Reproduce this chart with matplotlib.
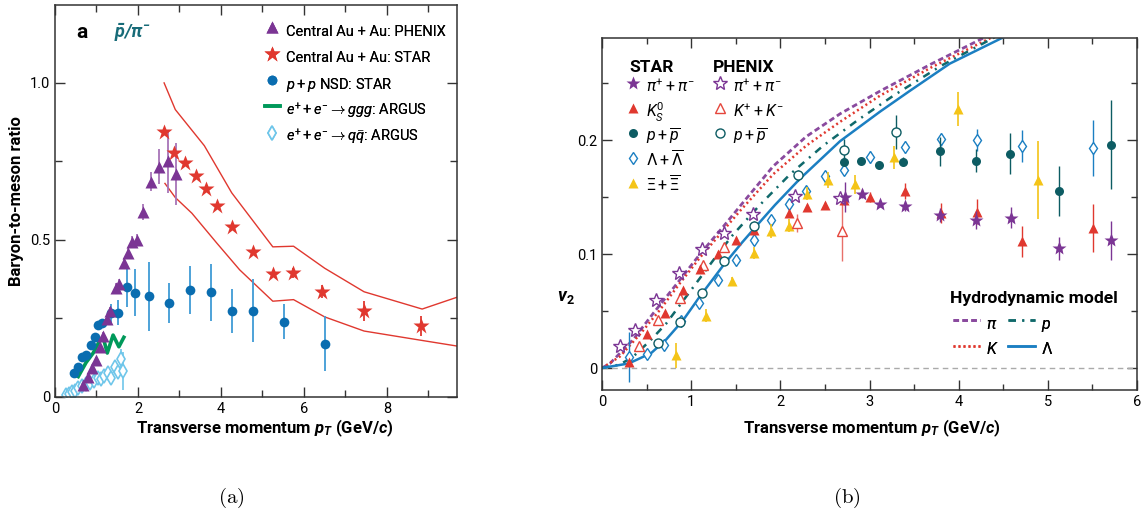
"""
Baryon-to-meson ratios (a) and elliptic flow v2 (b) versus transverse momentum
"""
import matplotlib
matplotlib.use("Agg")
from matplotlib import pyplot as plt
from matplotlib.ticker import MultipleLocator, FixedLocator

plt.rcParams["font.family"] = ["Roboto", "DejaVu Sans"]
plt.rcParams["mathtext.fontset"] = "custom"
plt.rcParams["mathtext.rm"] = "Roboto"
plt.rcParams["mathtext.it"] = "Roboto:italic"
plt.rcParams["mathtext.bf"] = "Roboto:bold"
if "mathtext.bfit" in plt.rcParams:
    plt.rcParams["mathtext.bfit"] = "Roboto:italic:bold"

# ---- panel a: pbar/pi- ratios ----
phenix_pt = [0.67, 0.80, 0.89, 0.99, 1.08, 1.16, 1.26, 1.33, 1.47, 1.55,
             1.66, 1.77, 1.86, 1.97, 2.12, 2.31, 2.51, 2.72, 2.92]
phenix_ratio = [0.038, 0.065, 0.092, 0.118, 0.160, 0.194, 0.248, 0.274, 0.347, 0.360,
                0.426, 0.458, 0.494, 0.500, 0.590, 0.685, 0.733, 0.750, 0.710]
phenix_err = [0.01, 0.01, 0.01, 0.01, 0.01, 0.012, 0.012, 0.012, 0.015, 0.015,
              0.015, 0.015, 0.02, 0.02, 0.025, 0.03, 0.055, 0.10, 0.10]

star_pt = [2.63, 2.87, 3.13, 3.40, 3.64, 3.90, 4.27, 4.78, 5.25, 5.74, 6.43, 7.45, 8.83]
star_ratio = [0.844, 0.777, 0.745, 0.704, 0.662, 0.609, 0.541, 0.461, 0.392, 0.395,
              0.335, 0.274, 0.226]
star_err = [0, 0, 0, 0, 0, 0, 0, 0, 0.01, 0.015, 0.02, 0.032, 0.033]

band_hi_pt = [2.63, 2.90, 3.60, 4.26, 5.25, 5.75, 6.50, 7.45, 8.85, 9.70]
band_hi = [1.0, 0.915, 0.80, 0.65, 0.478, 0.48, 0.41, 0.335, 0.28, 0.318]
band_lo_pt = [2.65, 2.90, 3.30, 3.90, 4.45, 5.25, 5.75, 6.50, 7.45, 8.85, 9.70]
band_lo = [0.68, 0.635, 0.585, 0.49, 0.405, 0.305, 0.31, 0.255, 0.21, 0.18, 0.162]

pp_pt = [0.46, 0.56, 0.66, 0.75, 0.87, 0.96, 1.04, 1.13, 1.35, 1.52,
         1.73, 1.93, 2.27, 2.75, 3.25, 3.75, 4.27, 4.78, 5.52, 6.52]
pp_ratio = [0.075, 0.095, 0.128, 0.134, 0.166, 0.19, 0.228, 0.236, 0.267, 0.268,
            0.35, 0.332, 0.32, 0.30, 0.34, 0.333, 0.275, 0.275, 0.24, 0.17]
pp_err = [0.005, 0.005, 0.006, 0.006, 0.007, 0.008, 0.01, 0.01, 0.03, 0.04,
          0.065, 0.075, 0.11, 0.063, 0.077, 0.09, 0.07, 0.10, 0.056, 0.088]

ggg_pt = [0.56, 0.75, 0.92, 1.06, 1.16, 1.26, 1.40, 1.54, 1.66]
ggg_ratio = [0.065, 0.11, 0.14, 0.175, 0.19, 0.14, 0.197, 0.16, 0.19]

qq_pt = [0.26, 0.33, 0.40, 0.48, 0.56, 0.66, 0.74, 0.84, 0.93, 1.03,
         1.11, 1.19, 1.27, 1.35, 1.44, 1.52, 1.59, 1.65]
qq_ratio = [0.005, 0.01, 0.016, 0.02, 0.028, 0.034, 0.04, 0.046, 0.05, 0.06,
            0.056, 0.066, 0.076, 0.062, 0.095, 0.08, 0.122, 0.082]
qq_err = [0.005, 0.005, 0.006, 0.006, 0.008, 0.008, 0.008, 0.01, 0.01, 0.012,
          0.012, 0.015, 0.015, 0.015, 0.02, 0.02, 0.03, 0.06]

# ---- panel b: v2 ----
star_pi_pt = [2.72, 2.92, 3.12, 3.40, 3.79, 4.19, 4.59, 5.12, 5.71]
star_pi_v2 = [0.150, 0.153, 0.144, 0.142, 0.134, 0.130, 0.132, 0.105, 0.112]
star_pi_err = [0.013, 0.004, 0.003, 0.004, 0.006, 0.008, 0.009, 0.010, 0.017]

phenix_pi_pt = [0.20, 0.37, 0.61, 0.86, 1.12, 1.37, 1.69, 2.17, 2.67]
phenix_pi_v2 = [0.019, 0.033, 0.060, 0.083, 0.104, 0.118, 0.135, 0.151, 0.149]

k0s_pt = [0.30, 0.50, 0.71, 0.905, 1.10, 1.30, 1.50, 1.70, 2.10, 2.30, 2.50, 2.71,
          3.00, 3.40, 3.80, 4.21, 4.71, 5.51]
k0s_v2 = [0.005, 0.030, 0.048, 0.068, 0.087, 0.100, 0.112, 0.121, 0.136, 0.141, 0.143,
          0.147, 0.150, 0.155, 0.136, 0.137, 0.111, 0.1225]
k0s_err = [0.002, 0.002, 0.002, 0.002, 0.003, 0.003, 0.003, 0.003, 0.003, 0.003, 0.003,
           0.004, 0.004, 0.007, 0.009, 0.011, 0.014, 0.021]

phenix_k_pt = [0.42, 0.63, 0.87, 1.13, 1.37, 2.19, 2.69]
phenix_k_v2 = [0.019, 0.042, 0.061, 0.090, 0.106, 0.127, 0.120]
phenix_k_err = [0.002, 0.002, 0.003, 0.003, 0.004, 0.008, 0.026]

star_p_pt = [2.71, 2.90, 3.11, 3.38, 3.79, 4.19, 4.58, 5.12, 5.71]
star_p_v2 = [0.181, 0.182, 0.178, 0.181, 0.190, 0.182, 0.188, 0.155, 0.196]
star_p_err = [0.004, 0.003, 0.003, 0.004, 0.013, 0.010, 0.018, 0.022, 0.039]

phenix_p_pt = [0.63, 0.875, 1.125, 1.37, 1.70, 2.20, 2.71, 3.30]
phenix_p_v2 = [0.022, 0.040, 0.066, 0.094, 0.125, 0.169, 0.191, 0.207]
phenix_p_err = [0.002, 0.003, 0.003, 0.004, 0.004, 0.005, 0.010, 0.015]

lam_pt = [0.30, 0.50, 0.70, 0.89, 1.09, 1.30, 1.50, 1.70, 1.90, 2.10,
          2.29, 2.50, 2.71, 3.01, 3.40, 3.80, 4.20, 4.71, 5.51]
lam_v2 = [0.010, 0.012, 0.020, 0.041, 0.057, 0.077, 0.095, 0.112, 0.130, 0.144,
          0.155, 0.168, 0.174, 0.185, 0.194, 0.2005, 0.200, 0.195, 0.193]
lam_err = [0.022, 0.003, 0.003, 0.003, 0.003, 0.003, 0.003, 0.004, 0.004, 0.004,
           0.004, 0.005, 0.005, 0.005, 0.005, 0.006, 0.010, 0.014, 0.025]

xi_pt = [0.83, 1.17, 1.46, 1.70, 1.90, 2.10, 2.30, 2.54, 2.84, 3.27, 3.99, 4.89]
xi_v2 = [0.011, 0.046, 0.076, 0.101, 0.120, 0.125, 0.153, 0.165, 0.161, 0.185, 0.227, 0.165]
xi_err = [0.011, 0.006, 0.004, 0.005, 0.006, 0.006, 0.006, 0.007, 0.008, 0.010, 0.015, 0.034]

# hydrodynamic model curves
hydro_pi_pt = [0, 0.09, 0.35, 0.575, 0.84, 1.10, 1.36, 1.58, 1.92, 2.29, 2.67, 3.12, 3.70, 4.29]
hydro_pi = [0, 0.004, 0.025, 0.048, 0.074, 0.100, 0.124, 0.145, 0.177, 0.203, 0.223,
            0.243, 0.267, 0.290]
hydro_k_pt = [0, 0.20, 0.43, 0.65, 0.87, 1.10, 1.32, 1.55, 1.92, 2.29, 2.67, 3.12, 3.70, 4.37]
hydro_k = [0, 0.010, 0.030, 0.051, 0.074, 0.097, 0.117, 0.138, 0.170, 0.195, 0.216,
           0.239, 0.264, 0.290]
hydro_p_pt = [0, 0.20, 0.35, 0.54, 0.72, 0.91, 1.10, 1.29, 1.47, 1.77, 2.11, 2.48, 2.86,
              3.27, 3.80, 4.40]
hydro_p = [0, 0.003, 0.010, 0.024, 0.039, 0.059, 0.079, 0.099, 0.117, 0.143, 0.170,
           0.195, 0.217, 0.239, 0.265, 0.290]
hydro_lam_pt = [0, 0.30, 0.55, 0.72, 0.91, 1.10, 1.36, 1.57, 1.77, 1.94, 2.22, 2.67,
                3.12, 3.45, 3.90, 4.55]
hydro_lam = [0, 0.004, 0.013, 0.025, 0.042, 0.063, 0.090, 0.110, 0.128, 0.143, 0.166,
             0.199, 0.225, 0.243, 0.267, 0.292]

W, H = 1146, 519
PURPLE = "#7b3594"
RED = "#e0382f"
BLUE = "#0a6db0"
LIGHTBLUE = "#3f9bd6"
GREEN = "#00995a"
CYAN = "#6fc6ea"
TEAL = "#0d5c63"
LAMBDA = "#1b7fc2"
YELLOW = "#f4c418"
SPINE = "#333333"


def fx(px):
    return px / W


def fy(py):
    return 1 - py / H


def style_axes(ax):
    for s in ax.spines.values():
        s.set_color(SPINE)
        s.set_linewidth(1.1)
    ax.tick_params(which="both", direction="in", top=True, right=True,
                   color=SPINE, width=1.0, labelsize=10.5)


def add_legend(ax, handles, left, top, pitch, fontsize, **kw):
    # a tall handle box sets the row height, so mathtext labels stay evenly spaced
    fs_px = fontsize * 100 / 72
    hh = (pitch / fs_px - 0.245) / 0.65
    leg = ax.legend(handles, [h.get_label() for h in handles], loc="upper left",
                    bbox_to_anchor=(fx(left), fy(top)), bbox_transform=fig.transFigure,
                    frameon=False, borderpad=0, borderaxespad=0, labelspacing=0,
                    handleheight=hh, fontsize=fontsize, **kw)
    ax.add_artist(leg)
    return leg


fig = plt.figure(figsize=(W / 100, H / 100), dpi=100)

# ================= (a) =================
ax = fig.add_axes([fx(55), fy(397), (457 - 55) / W, (397 - 5) / H])
ax.plot(band_hi_pt, band_hi, color=RED, lw=1.0)
ax.plot(band_lo_pt, band_lo, color=RED, lw=1.0)

ax.errorbar(qq_pt, qq_ratio, yerr=qq_err, fmt="none", ecolor=CYAN, elinewidth=1.2)
h_qq, = ax.plot(qq_pt, qq_ratio, "d", ms=7, mfc="white", mec=CYAN, mew=1.2,
                label=r"$e^{+} + e^{-} \rightarrow q\bar{q}$: ARGUS")
h_ggg, = ax.plot(ggg_pt, ggg_ratio, color=GREEN, lw=2.6,
                 label=r"$e^{+} + e^{-} \rightarrow ggg$: ARGUS")
ax.errorbar(pp_pt, pp_ratio, yerr=pp_err, fmt="none", ecolor=LIGHTBLUE, elinewidth=1.3)
h_pp, = ax.plot(pp_pt, pp_ratio, "o", ms=7, color=BLUE, mec="none",
                label=r"$p + p$ NSD: STAR")
ax.errorbar(phenix_pt, phenix_ratio, yerr=phenix_err, fmt="none", ecolor="#a774b8",
            elinewidth=1.3)
h_ph, = ax.plot(phenix_pt, phenix_ratio, "^", ms=8, color=PURPLE, mec="none",
                label="Central Au + Au: PHENIX")
ax.errorbar(star_pt, star_ratio, yerr=star_err, fmt="none", ecolor=RED, elinewidth=1.3)
h_st, = ax.plot(star_pt, star_ratio, "*", ms=12, color=RED, mec="none",
                label="Central Au + Au: STAR")

ax.set_xlim(0, 9.69)
ax.set_ylim(0, 1.248)
ax.xaxis.set_major_locator(FixedLocator([0, 2, 4, 6, 8]))
ax.xaxis.set_minor_locator(MultipleLocator(1))
ax.yaxis.set_major_locator(FixedLocator([0, 0.5, 1.0]))
ax.yaxis.set_minor_locator(FixedLocator([0.25, 0.75]))
ax.set_yticklabels(["0", "0.5", "1.0"])
style_axes(ax)
ax.tick_params(which="major", length=7)
ax.tick_params(which="minor", length=5)

ax.set_xlabel(r"Transverse momentum $\mathbfit{p}_{\mathbfit{T}}$ (GeV/$\mathbfit{c}$)",
              fontsize=12, fontweight="bold", va="center")
ax.xaxis.set_label_coords((265 - 55) / 402, (397 - 428) / 392)
ax.set_ylabel("Baryon-to-meson ratio", fontsize=12, fontweight="bold", va="center")
ax.yaxis.set_label_coords((17 - 55) / 402, 0.5)

fig.text(fx(82), fy(33), "a", fontsize=15, fontweight="bold", ha="center", va="center")
fig.text(fx(132), fy(33), r"$\mathbfit{\bar{p}/\pi^{-}}$", fontsize=13, color="#176b78",
         ha="center", va="center")

add_legend(ax, [h_ph, h_st, h_pp, h_ggg, h_qq], left=265, top=18.5, pitch=26.3,
           fontsize=10.5, handlelength=1.0, handletextpad=0.45)

# ================= (b) =================
bx = fig.add_axes([fx(602), fy(390), (1137 - 602) / W, (390 - 38) / H])
bx.axhline(0, color="#aaaaaa", lw=1.0, ls=(0, (4, 3)))

h_hpi, = bx.plot(hydro_pi_pt, hydro_pi, color="#8a4a9e", lw=2.0, ls=(0, (2, 1.2)),
                 label=r"$\pi$")
h_hk, = bx.plot(hydro_k_pt, hydro_k, color=RED, lw=1.8, ls=(0, (0.8, 1.2)),
                label=r"$K$")
h_hp, = bx.plot(hydro_p_pt, hydro_p, color="#10696b", lw=1.8,
                ls=(0, (3, 2.5, 0.8, 2.5)), label=r"$p$")
h_hl, = bx.plot(hydro_lam_pt, hydro_lam, color=LAMBDA, lw=1.8, label=r"$\Lambda$")

bx.errorbar(lam_pt, lam_v2, yerr=lam_err, fmt="none", ecolor=LAMBDA, elinewidth=1.0)
h_lam, = bx.plot(lam_pt, lam_v2, "d", ms=6.5, mfc="white", mec=LAMBDA, mew=1.0,
                 label=r"$\Lambda + \overline{\Lambda}$")
bx.errorbar(xi_pt, xi_v2, yerr=xi_err, fmt="none", ecolor=YELLOW, elinewidth=1.2)
h_xi, = bx.plot(xi_pt, xi_v2, "^", ms=6.5, color=YELLOW, mec="none",
                label=r"$\Xi + \overline{\Xi}$")
bx.errorbar(phenix_k_pt, phenix_k_v2, yerr=phenix_k_err, fmt="none", ecolor="#e8706a",
            elinewidth=1.0)
h_pk, = bx.plot(phenix_k_pt, phenix_k_v2, "^", ms=6.5, mfc="white", mec="#e5463c",
                mew=1.0, label=r"$K^{+} + K^{-}$")
bx.errorbar(k0s_pt, k0s_v2, yerr=k0s_err, fmt="none", ecolor=RED, elinewidth=1.0)
h_k0, = bx.plot(k0s_pt, k0s_v2, "^", ms=6.5, color=RED, mec="none",
                label=r"$K^{0}_{S}$")
bx.errorbar(phenix_p_pt, phenix_p_v2, yerr=phenix_p_err, fmt="none", ecolor=TEAL,
            elinewidth=1.0)
h_pp2, = bx.plot(phenix_p_pt, phenix_p_v2, "o", ms=6.5, mfc="white", mec=TEAL, mew=1.0,
                 label=r"$p + \overline{p}$")
bx.errorbar(star_p_pt, star_p_v2, yerr=star_p_err, fmt="none", ecolor=TEAL, elinewidth=1.0)
h_sp, = bx.plot(star_p_pt, star_p_v2, "o", ms=6.5, color=TEAL, mec="none",
                label=r"$p + \overline{p}$")
h_ppi, = bx.plot(phenix_pi_pt, phenix_pi_v2, "*", ms=10, mfc="white", mec=PURPLE,
                 mew=1.0, label=r"$\pi^{+} + \pi^{-}$")
bx.errorbar(star_pi_pt, star_pi_v2, yerr=star_pi_err, fmt="none", ecolor=PURPLE,
            elinewidth=1.0)
h_spi, = bx.plot(star_pi_pt, star_pi_v2, "*", ms=10, color=PURPLE, mec="none",
                 label=r"$\pi^{+} + \pi^{-}$")

bx.set_xlim(0, 6)
bx.set_ylim(-0.0193, 0.2895)
bx.xaxis.set_major_locator(MultipleLocator(1))
bx.xaxis.set_minor_locator(MultipleLocator(0.5))
bx.yaxis.set_major_locator(FixedLocator([0, 0.1, 0.2]))
bx.yaxis.set_minor_locator(FixedLocator([0.05, 0.15, 0.25]))
bx.set_yticklabels(["0", "0.1", "0.2"])
style_axes(bx)
bx.tick_params(which="major", length=7)
bx.tick_params(which="minor", length=4)

bx.set_xlabel(r"Transverse momentum $\mathbfit{p}_{\mathbfit{T}}$ (GeV/$\mathbfit{c}$)",
              fontsize=12, fontweight="bold", va="center")
bx.xaxis.set_label_coords((872 - 602) / 535, (390 - 428) / 352)
bx.set_ylabel(r"$\mathbfit{v}_{\mathbf{2}}$", fontsize=13, rotation=0,
              ha="center", va="center")
bx.yaxis.set_label_coords((566 - 602) / 535, (390 - 297) / 352)

add_legend(bx, [h_spi, h_k0, h_sp, h_lam, h_xi], left=627, top=74.5, pitch=25.0,
           fontsize=11.5, handlelength=0.75, handletextpad=0.45)
add_legend(bx, [h_ppi, h_pk, h_pp2], left=714, top=74.5, pitch=25.0,
           fontsize=11.5, handlelength=0.75, handletextpad=0.45)
add_legend(bx, [h_hpi, h_hk, h_hp, h_hl], left=953, top=311.5, pitch=25.2,
           fontsize=11.5, ncol=2, handlelength=1.7, handletextpad=0.35,
           columnspacing=0.6)

fig.text(fx(629), fy(68), "STAR", fontsize=12.5, fontweight="bold", va="center")
fig.text(fx(713), fy(68), "PHENIX", fontsize=12.5, fontweight="bold", va="center")
fig.text(fx(950), fy(298), "Hydrodynamic model", fontsize=12.6, fontweight="bold",
         va="center")

# sub-figure captions
fig.text(fx(231), fy(498), r"$\mathrm{(a)}$", math_fontfamily="cm", fontsize=15,
         ha="center", va="center")
fig.text(fx(847), fy(498), r"$\mathrm{(b)}$", math_fontfamily="cm", fontsize=15,
         ha="center", va="center")

fig.savefig("out.png", dpi=100)
